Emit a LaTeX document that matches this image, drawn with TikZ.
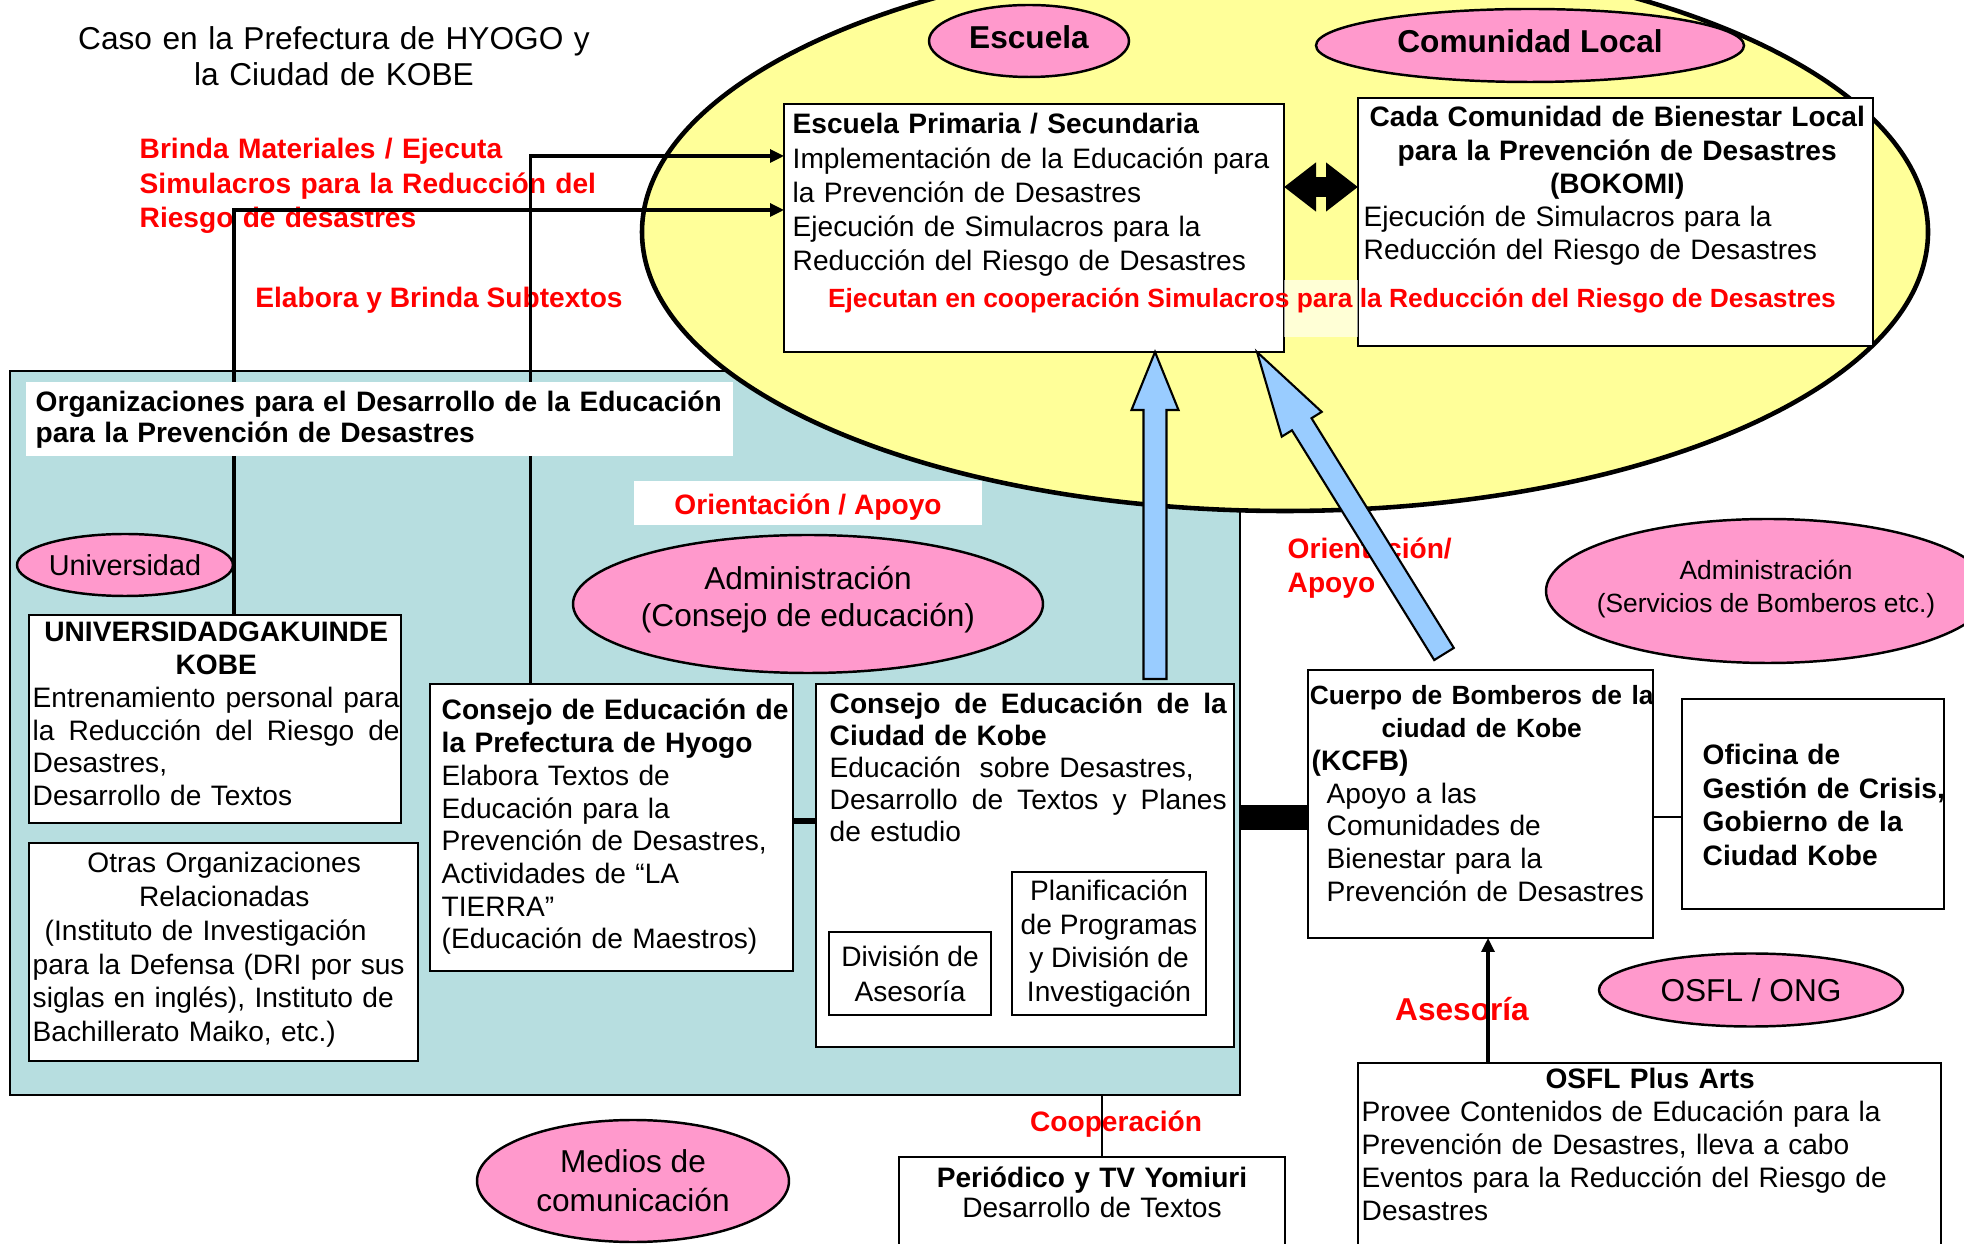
\documentclass[tikz,border=0pt]{standalone}
\usepackage{fontspec}
\setmainfont{Liberation Sans}
\usepackage{tikz}
\usetikzlibrary{calc,shapes.geometric,arrows.meta}

\definecolor{zoneyellow}{RGB}{255,255,153}
\definecolor{tagpink}{RGB}{255,153,204}
\definecolor{orgteal}{RGB}{183,222,224}
\definecolor{helpblue}{RGB}{153,204,255}

\newcommand{\jline}[1]{\makebox[\linewidth][s]{\spaceskip=0.278em plus 1fil\relax #1}}
\newcommand{\ctr}[1]{\makebox[\linewidth][c]{#1}}
\newcommand{\fatarrow}[3]{%
  \coordinate (fa-b) at ($(#2)!#3!(#1)$);
  \filldraw[helparrow] ($(#1)!0.115cm!90:(#2)$) -- ($(fa-b)!0.115cm!-90:(#1)$)
    -- ($(fa-b)!0.235cm!-90:(#1)$) -- (#2) -- ($(fa-b)!0.235cm!90:(#1)$)
    -- ($(fa-b)!0.115cm!90:(#1)$) -- ($(#1)!0.115cm!-90:(#2)$) -- cycle;}

\begin{document}
\begin{tikzpicture}[x=0.1mm, y=-0.1mm,
  box/.style={draw, line width=0.7pt, fill=white, inner sep=0pt, outer sep=0pt},
  txt/.style={inner sep=0pt, anchor=base west, align=left},
  tag/.style={ellipse, draw, line width=0.7pt, fill=tagpink, inner sep=0pt, outer sep=0pt, align=center},
  redlbl/.style={text=red, inner sep=0pt, font=\bfseries\fontsize{8}{9.8}\selectfont},
  feed/.style={line width=0.9pt, -{Triangle[length=0.14cm,width=0.13cm]}},
  helparrow/.style={fill=helpblue, draw, line width=0.6pt, line join=miter},
  link/.style={line width=0.7pt}]

\useasboundingbox (0,0) rectangle (1964,1244);
\clip (0,0) rectangle (1964,1244);

% areas
\node[draw, line width=0.6pt, fill=orgteal, inner sep=0pt, outer sep=0pt, minimum width=12.3cm, minimum height=7.24cm] (orgarea) at (625,733) {};
\node[ellipse, draw, line width=1.3pt, fill=zoneyellow, inner sep=0pt, outer sep=0pt, minimum width=12.86cm, minimum height=5.58cm] (zone) at (1285,232) {};

\node[txt, anchor=base, text width=6cm, align=center, font=\fontsize{9}{10}\selectfont] (title) at (334,50) {Caso en la Prefectura de HYOGO y\\la Ciudad de KOBE};

% pink tags
\node[tag, minimum width=2cm, minimum height=0.72cm, text height=6.5pt, text depth=2.5pt, font=\bfseries\fontsize{9}{10}\selectfont] (escuela) at (1029,41) {Escuela};
\node[tag, minimum width=4.28cm, minimum height=0.73cm, text height=6.5pt, text depth=2.5pt, font=\bfseries\fontsize{9}{10}\selectfont] (comunidad) at (1530,45.5) {Comunidad Local};
\node[tag, minimum width=2.16cm, minimum height=0.62cm, font=\fontsize{8.2}{10}\selectfont] (universidad) at (125,565) {Universidad};
\node[tag, minimum width=4.7cm, minimum height=1.38cm] (admin) at (808,604) {};
\node[txt, anchor=center, align=center, font=\fontsize{9}{10.5}\selectfont] (admintxt) at (808,600) {Administración\\(Consejo de educación)};
\node[tag, minimum width=4.44cm, minimum height=1.44cm] (bomberos) at (1768,591) {};
\node[txt, anchor=center, align=center, font=\fontsize{7.5}{9.5}\selectfont] (bomberostxt) at (1766,589) {Administración\\(Servicios de Bomberos etc.)};
\node[tag, minimum width=3.04cm, minimum height=0.73cm, font=\fontsize{9}{10}\selectfont] (ong) at (1751,990) {OSFL / ONG};
\node[tag, minimum width=3.12cm, minimum height=1.22cm, font=\fontsize{9}{11}\selectfont] (medios) at (633,1181) {Medios de\\comunicación};

% school and community
\node[box, minimum width=5cm, minimum height=2.48cm] (school) at (1034,228) {};
\node[txt, text width=4.85cm, font=\fontsize{8}{9.7}\selectfont] (schooltxt) at (792,134) {\textbf{Escuela Primaria / Secundaria}\\Implementación de la Educación para\\la Prevención de Desastres\\Ejecución de Simulacros para la\\Reducción del Riesgo de Desastres};

\node[box, minimum width=5.15cm, minimum height=2.48cm] (community) at (1615.5,222) {};
\node[txt, text width=5.07cm, font=\fontsize{8}{9.45}\selectfont] (communitytxt) at (1363,127) {\ctr{\textbf{Cada Comunidad de Bienestar Local}}\\\ctr{\textbf{para la Prevención de Desastres}}\\\ctr{\textbf{(BOKOMI)}}\\Ejecución de Simulacros para la\\Reducción del Riesgo de Desastres};

% education boxes
\node[box, minimum width=3.72cm, minimum height=2.08cm] (univ) at (215,719) {};
\node[txt, text width=3.67cm, font=\fontsize{8}{9.3}\selectfont] (univtxt) at (32,642) {\ctr{\textbf{UNIVERSIDADGAKUINDE}}\\\ctr{\textbf{KOBE}}\\\jline{Entrenamiento personal para}\\\jline{la Reducción del Riesgo de}\\Desastres,\\Desarrollo de Textos};

\node[box, minimum width=3.89cm, minimum height=2.18cm] (otras) at (223.5,952) {};
\node[txt, text width=3.83cm, font=\fontsize{8}{9.6}\selectfont] (otrastxt) at (32,873) {\ctr{Otras Organizaciones}\\\ctr{Relacionadas}\\\hspace*{0.12cm}(Instituto de Investigación\\para la Defensa (DRI por sus\\siglas en inglés), Instituto de\\Bachillerato Maiko, etc.)};

\node[box, minimum width=3.63cm, minimum height=2.87cm] (hyogo) at (611.5,827.5) {};
\node[txt, text width=3.6cm, font=\fontsize{8}{9.3}\selectfont] (hyogotxt) at (441,720) {\textbf{Consejo de Educación de}\\\textbf{la Prefectura de Hyogo}\\Elabora Textos de\\Educación para la\\Prevención de Desastres,\\Actividades de “LA\\TIERRA”\\(Educación de Maestros)};

\node[box, minimum width=4.18cm, minimum height=3.63cm] (kobe) at (1025,865.5) {};
\node[txt, text width=3.97cm, font=\fontsize{8}{9.1}\selectfont] (kobetxt) at (829,714) {\jline{\bfseries Consejo de Educación de la}\\\textbf{Ciudad de Kobe}\\Educación\ \ sobre Desastres,\\\jline{Desarrollo de Textos y Planes}\\de estudio};
\node[box, align=center, minimum width=1.62cm, minimum height=0.83cm, font=\fontsize{8}{9.9}\selectfont] (asesoriadiv) at (910,973.5) {División de\\Asesoría};
\node[box, align=center, minimum width=1.94cm, minimum height=1.43cm, font=\fontsize{8}{9.5}\selectfont] (planning) at (1109,943.5) {Planificación\\de Programas\\y División de\\Investigación};

% right side
\node[box, minimum width=3.45cm, minimum height=2.68cm] (kcfb) at (1480.5,804) {};
\node[txt, text width=3.4cm, font=\fontsize{8}{9.3}\selectfont] (kcfbtxt) at (1311,705) {\ctr{\bfseries\fontsize{7.5}{9.3}\selectfont Cuerpo de Bomberos de la}\\\ctr{\bfseries\fontsize{7.5}{9.3}\selectfont ciudad de Kobe}\\\textbf{(KCFB)}\\\hspace*{0.15cm}Apoyo a las\\\hspace*{0.15cm}Comunidades de\\\hspace*{0.15cm}Bienestar para la\\\hspace*{0.15cm}Prevención de Desastres};

\node[box, minimum width=2.62cm, minimum height=2.10cm] (oficina) at (1813,804) {};
\node[txt, text width=2.8cm, font=\bfseries\fontsize{8}{9.5}\selectfont] (oficinatxt) at (1702,765) {Oficina de\\Gestión de Crisis,\\Gobierno de la\\Ciudad Kobe};

\node[box, minimum width=5.83cm, minimum height=2.1cm] (plusarts) at (1649.5,1168) {};
\node[txt, text width=5.77cm, font=\fontsize{8}{9.4}\selectfont] (plusartstxt) at (1361,1088.5) {\ctr{\textbf{OSFL Plus Arts}}\\Provee Contenidos de Educación para la\\Prevención de Desastres, lleva a cabo\\Eventos para la Reducción del Riesgo de\\Desastres};

\node[box, minimum width=3.86cm, minimum height=1.1cm] (periodico) at (1092,1212) {};
\node[txt, anchor=base, text width=3.8cm, align=center, font=\fontsize{8}{8.8}\selectfont] (periodicotxt) at (1092,1187) {\textbf{Periódico y TV Yomiuri}\\Desarrollo de Textos};

% red labels
\node[redlbl, txt, text width=4.7cm] (brinda) at (139,159) {Brinda Materiales / Ejecuta\\Simulacros para la Reducción del\\Riesgo de desastres};
\node[redlbl, anchor=base] (subtextos) at (439,308) {Elabora y Brinda Subtextos};
\coordinate (gaptop) at (0,280);
\coordinate (gapbot) at (0,337);
\fill[white, fill opacity=0.6] (school.east |- gaptop) rectangle (community.west |- gapbot);
\node[redlbl, anchor=base, font=\bfseries\fontsize{7.5}{9}\selectfont] (jointdrill) at (1332,308) {Ejecutan en cooperación Simulacros para la Reducción del Riesgo de Desastres};
\node[redlbl, fill=white, minimum width=3.48cm, minimum height=0.44cm, text height=9.4pt, text depth=3.1pt] (orient) at (808,503) {Orientación / Apoyo};
\node[redlbl, txt, text width=1.6cm, font=\bfseries\fontsize{8}{9.5}\selectfont] (orientkcfb) at (1287,559) {Orientación/\\Apoyo};
\node[redlbl, anchor=base] (coop) at (1116,1132) {Cooperación};
\node[redlbl, anchor=base, font=\bfseries\fontsize{9}{10}\selectfont] (asesoria) at (1462,1021) {Asesoría};

% connectors
\coordinate (dblL) at ([yshift=0.41cm]school.east);
\coordinate (dblR) at (dblL -| community.west);
\draw[line width=0.2cm, {Triangle[length=0.32cm,width=0.47cm]}-{Triangle[length=0.32cm,width=0.47cm]}] (dblL) -- (dblR);

\draw[feed] ([xshift=-0.81cm]hyogo.north) |- ([yshift=-0.52cm]school.north west);
\draw[feed] ([xshift=0.19cm]univ.north) |- ([yshift=-1.06cm]school.north west);

\coordinate (hkL) at ([yshift=0.065cm]hyogo.east);
\draw[line width=1.5pt] (hkL) -- (hkL -| kobe.west);
\coordinate (barR) at ([yshift=-0.14cm]kcfb.west);
\draw[line width=0.25cm] (barR -| orgarea.east) -- (barR);
\coordinate (koL) at ([yshift=-0.13cm]kcfb.east);
\draw[link] (koL) -- (koL -| oficina.west);
\coordinate (advtip) at ([xshift=0.075cm]kcfb.south);
\draw[feed] (advtip |- plusarts.north) -- (advtip);
\coordinate (coopend) at ([xshift=0.1cm]periodico.north);
\draw[link] (coopend) -- (coopend |- orgarea.south);

% title of the education group
\node[fill=white, inner sep=0pt, outer sep=0pt, minimum width=7.07cm, minimum height=0.74cm] (orgtitle) at (379.5,419) {};
\node[txt, text width=6.86cm, font=\bfseries\fontsize{8}{8.8}\selectfont] (orgtitletxt) at (35,412) {\jline{Organizaciones para el Desarrollo de la Educación}\\para la Prevención de Desastres};

% support arrows
\coordinate (vtail) at ([xshift=1.3cm,yshift=0.05cm]kobe.north);
\coordinate (vtip) at (vtail |- school.south);
\fatarrow{vtail}{vtip}{0.58cm}
\coordinate (dtail) at ([xshift=-0.365cm,yshift=0.16cm]kcfb.north);
\coordinate (dtip) at ([xshift=-0.27cm]school.south east);
\fatarrow{dtail}{dtip}{0.85cm}

\end{tikzpicture}
\end{document}
